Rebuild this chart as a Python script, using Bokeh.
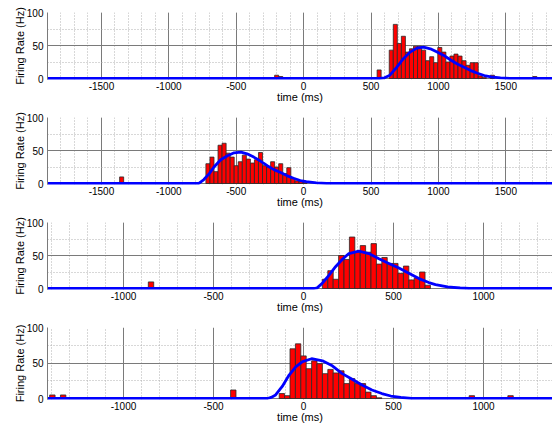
from bokeh.plotting import figure
from bokeh.layouts import column
from bokeh.models import Range1d, SingleIntervalTicker, PrintfTickFormatter
from bokeh.embed import file_html
from bokeh.resources import INLINE

FONT = "Liberation Sans"

# ---------------- data ----------------
BIN_W = 30  # ms

# Panel 1
p1_centers = [-200, -170, 560, 650, 680, 710, 740, 770, 800, 830, 860, 890, 920, 950, 980,
              1010, 1040, 1070, 1100, 1130, 1160, 1190, 1220, 1250, 1280, 1310, 1340, 1400, 1715]
p1_rates = [5, 3, 13, 43, 82, 53, 64, 40, 45, 49, 49, 43, 27, 33, 24,
            47, 40, 25, 34, 37, 34, 27, 20, 24, 24, 4, 2, 5, 3]
p1_fit_t = [-1900, 560, 600, 640, 690, 740, 790, 840, 890, 940, 990, 1040, 1090, 1140,
            1190, 1240, 1290, 1340, 1390, 1460, 1530, 1846]
p1_fit_r = [0, 0, 1, 5, 17, 30, 40, 46, 47.5, 45, 40, 35, 28, 22,
            17, 12, 8, 4.5, 2.5, 1, 0, 0]

# Panel 2
p2_centers = [-1350, -710, -680, -650, -620, -590, -560, -530, -500, -470, -440, -410, -380,
              -350, -320, -290, -260, -230, -200, -170, -140, -110, -80, -50, -20, 10]
p2_rates = [10, 30, 40, 18, 58, 61, 46, 40, 27, 33, 43, 37, 31,
            36, 47, 27, 25, 33, 25, 30, 15, 24, 8, 4, 3, 2]
p2_fit_t = [-1900, -780, -740, -700, -665, -615, -565, -515, -465, -420, -370, -320, -270,
            -220, -175, -125, -75, -25, 20, 95, 170, 1846]
p2_fit_r = [0, 0, 6, 15, 25, 36, 42, 46.5, 47.5, 45, 40, 34, 27,
            21, 17, 12, 8, 4.5, 3, 1, 0, 0]

# Panel 3
p3_centers = [-847, 120, 150, 180, 210, 240, 270, 300, 330, 360, 390, 420, 450, 480, 510,
              540, 570, 600, 630, 660, 690]
p3_rates = [10, 14, 27, 14, 50, 44, 78, 55, 65, 55, 68, 37, 47, 38, 38,
            23, 34, 13, 16, 25, 5]
p3_fit_t = [-1422, 60, 76, 104, 141, 178, 215, 252, 307, 363, 419, 474, 530, 585, 641,
            696, 733, 800, 870, 920, 1383]
p3_fit_r = [0, 0, 1, 8, 20, 33, 44, 53, 56.5, 53, 45, 38, 31, 23, 15,
            9, 6, 2.5, 0.8, 0, 0]

# Panel 4
p4_centers = [-1395, -1335, -390, -120, -90, -60, -30, 0, 30, 60, 90, 120, 150, 180, 210,
              240, 270, 300, 330, 360, 390, 420, 935, 1150]
p4_rates = [5, 5, 12, 7, 4, 70, 77, 60, 42, 53, 49, 35, 41, 36, 39,
            21, 28, 21, 21, 9, 4, 1, 4, 4]
p4_fit_t = [-1422, -200, -180, -155, -118, -80, -42, -5, 45, 105, 160, 215, 270, 325,
            380, 435, 485, 540, 600, 1383]
p4_fit_r = [0, 0, 1.5, 5, 17, 33, 45, 52, 56, 53, 46, 35, 27, 19,
            12, 7, 3.5, 1.5, 0, 0]

X_LABEL = "time (ms)"
Y_LABEL = "Firing Rate (Hz)"


def make_panel(centers, rates, fit_t, fit_r, xr, height, frame_h, ystart):
    p = figure(width=552, height=height,
               x_range=Range1d(*xr), y_range=Range1d(ystart, 100),
               output_backend="svg", toolbar_location=None,
               min_border_left=47, min_border_right=0, min_border_top=12,
               min_border_bottom=height - 12 - frame_h)
    p.outline_line_color = None
    p.background_fill_color = "white"
    p.border_fill_color = "white"

    p.xaxis.ticker = SingleIntervalTicker(interval=500, num_minor_ticks=5)
    p.yaxis.ticker = SingleIntervalTicker(interval=50, num_minor_ticks=2)
    p.xaxis.formatter = PrintfTickFormatter(format="%d")
    p.yaxis.formatter = PrintfTickFormatter(format="%d")

    for g in (p.xgrid, p.ygrid):
        g.grid_line_color = "#7a7a7a"
        g.grid_line_width = 1
        g.minor_grid_line_color = "#b0b0b0"
        g.minor_grid_line_dash = "1 2"
        g.minor_grid_line_width = 1

    for ax in (p.xaxis, p.yaxis):
        ax.major_tick_out = 0
        ax.major_tick_in = 0
        ax.minor_tick_out = 0
        ax.minor_tick_in = 0
        ax.major_label_text_font = FONT
        ax.major_label_text_font_size = "10px"
        ax.major_label_text_color = "black"
        ax.axis_label_text_font = FONT
        ax.axis_label_text_font_size = "11px"
        ax.axis_label_text_font_style = "normal"
        ax.axis_label_text_color = "black"
    p.xaxis.axis_line_color = None
    p.yaxis.axis_line_color = "#7a7a7a"
    p.xaxis.major_label_standoff = 2
    p.xaxis.axis_label_standoff = -2
    p.yaxis.major_label_standoff = 4
    p.yaxis.axis_label_standoff = -2
    p.xaxis.axis_label = X_LABEL
    p.yaxis.axis_label = Y_LABEL

    p.vbar(x=centers, width=BIN_W, top=rates, bottom=0,
           fill_color="#ff0000", line_color="#2a2a2a", line_width=0.8)
    p.line(fit_t, fit_r, line_color="#0000ff", line_width=2.8,
           line_join="round", line_cap="round")
    return p


p1 = make_panel(p1_centers, p1_rates, p1_fit_t, p1_fit_r, (-1900, 1846), 105, 67, -1.5)
p2 = make_panel(p2_centers, p2_rates, p2_fit_t, p2_fit_r, (-1900, 1846), 105, 67, -1.5)
p3 = make_panel(p3_centers, p3_rates, p3_fit_t, p3_fit_r, (-1422, 1383), 105, 67, -1.5)
p4 = make_panel(p4_centers, p4_rates, p4_fit_t, p4_fit_r, (-1422, 1383), 112, 72, -1.4)

layout = column(p1, p2, p3, p4, spacing=0)
open("out.html", "w").write(file_html(layout, INLINE))
